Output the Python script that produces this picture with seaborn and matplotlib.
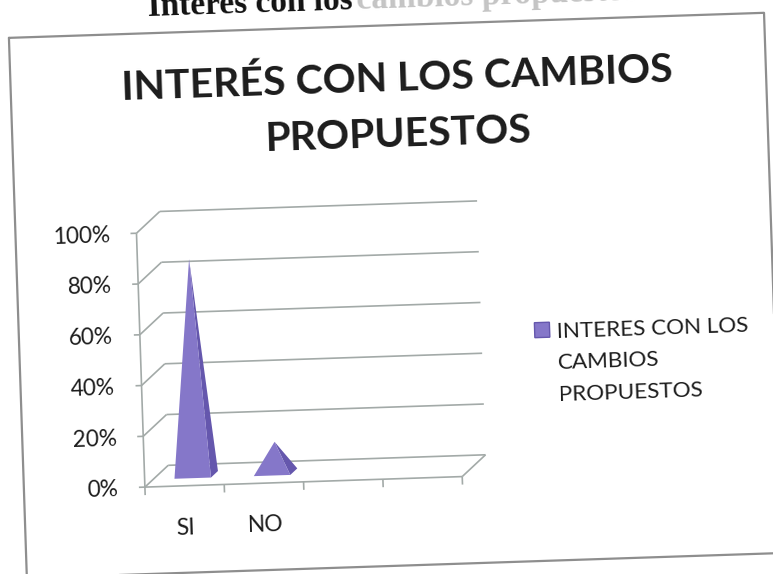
import matplotlib
matplotlib.use("Agg")
import numpy as np
import pandas as pd
import matplotlib.pyplot as plt
import seaborn as sns
from matplotlib.transforms import Affine2D
from matplotlib.lines import Line2D
from matplotlib.patches import Rectangle

# ---------------- data ----------------
categories = ["SI", "NO"]
values = [85, 12]
n_slots = 4
yticks = [0, 20, 40, 60, 80, 100]
ytick_labels = ["0%", "20%", "40%", "60%", "80%", "100%"]
title_lines = ["INTERÉS CON LOS CAMBIOS", "PROPUESTOS"]
legend_lines = ["INTERES CON LOS", "CAMBIOS", "PROPUESTOS"]
caption_dark = "Interes con los"
caption_faint = "cambios propuestos"

# ---------------- style ----------------
front_col = "#8577c9"
side_col = "#6557ad"
grid_col = "#a3aaa8"
text_col = "#1c1c1c"
ANG = 1.9          # scan rotation (deg)
DX, DY = 24, 21    # depth offset (px)
F0, F1 = 0.35, 0.65

sns.set_theme(style="white")
plt.rcParams['font.family'] = ['Lato', 'DejaVu Sans']

W, H = 773, 574
fig = plt.figure(figsize=(W / 100, H / 100), dpi=100)
fig.patch.set_facecolor("white")
ax = fig.add_axes([138.5 / W, (H - 479) / H, 317.5 / W, 254 / H])

df = pd.DataFrame({"cat": categories, "val": values})
sns.barplot(data=df, x="cat", y="val", width=0.46, color=front_col, ax=ax, errorbar=None)
ax.set_xlim(-0.5, n_slots - 0.5)
ax.set_ylim(0, 100)
ax.set_autoscale_on(False)
ax.axis("off")

bars = [(p.get_x(), p.get_width(), p.get_height()) for p in ax.patches]
for p in list(ax.patches):
    p.remove()
for l in list(ax.lines):
    l.remove()

ROT = Affine2D().rotate_deg_around(386, H - 290, ANG)
trD = ax.transData + ROT
trI = Affine2D().scale(1, -1).translate(0, H) + ROT


def px2data(dx, dy):
    p0 = ax.transData.transform((0, 0))
    q = ax.transData.inverted().transform(p0 + np.array([dx, dy]))
    return q[0], q[1]


ddx, ddy = px2data(DX, DY)


def P(x, y, f):
    return (x + f * ddx, y + f * ddy)


def seg(a, b, **kw):
    ax.plot([a[0], b[0]], [a[1], b[1]], transform=trD, clip_on=False,
            color=grid_col, lw=1.2, solid_capstyle="butt", zorder=1, **kw)


x_lo, x_hi = -0.5, n_slots - 0.5
# back wall gridlines + left wall diagonals + front ticks
tdx, _ = px2data(6, 0)
for v in yticks:
    seg(P(x_lo, v, 1), P(x_hi, v, 1))
    seg(P(x_lo, v, 0), P(x_lo, v, 1))
    seg((x_lo - tdx, v), (x_lo, v))
# front vertical axis
seg(P(x_lo, 0, 0), P(x_lo, 100, 0))
# floor front edge and right edge
seg(P(x_lo, 0, 0), P(x_hi, 0, 0))
seg(P(x_hi, 0, 0), P(x_hi, 0, 1))
# floor ticks
_, tdy = px2data(0, 8)
for k in range(n_slots + 1):
    b = x_lo + k
    seg((b, 0), (b, -tdy))

# pyramids
for (x0, w, h) in bars:
    c = x0 + w / 2
    FL, FR, BR = P(x0, 0, F0), P(x0 + w, 0, F0), P(x0 + w, 0, F1)
    apex = P(c, h, 0.5)
    ax.fill([FR[0], BR[0], apex[0]], [FR[1], BR[1], apex[1]], color=side_col,
            transform=trD, clip_on=False, zorder=3, lw=0)
    ax.fill([FL[0], FR[0], apex[0]], [FL[1], FR[1], apex[1]], color=front_col,
            transform=trD, clip_on=False, zorder=4, lw=0)

# y tick labels
for v, lab in zip(yticks, ytick_labels):
    ax.text(x_lo, v, lab, transform=ax.transData + Affine2D().translate(-26.7, -8) + ROT,
            ha="right", va="baseline", rotation=ANG, rotation_mode="anchor",
            fontsize=16.3, color=text_col)

# category labels
for (x0, w, h), lab in zip(bars, categories):
    ax.text(x0 + w / 2, 0, lab, transform=ax.transData + Affine2D().translate(0, -48.5) + ROT,
            ha="center", va="baseline", rotation=ANG, rotation_mode="anchor",
            fontsize=16.5, color=text_col)

# title
for y, line in zip([91, 147], title_lines):
    fig.text(404, y, line, transform=trI, ha="center", va="baseline", rotation=ANG,
             rotation_mode="anchor", fontsize=29.5, fontweight="bold", color=text_col)

# legend
fig.add_artist(Rectangle((533.2, 327.6), 15, 15, transform=trI, facecolor=front_col,
                         edgecolor=side_col, lw=1))
for y, line in zip([343.6, 375, 407], legend_lines):
    fig.text(555.5, y, line, transform=trI, ha="left", va="baseline", rotation=ANG,
             rotation_mode="anchor", fontsize=16.2, color=text_col)

# chart border
bx = [17.5, 773, 773, 17.5, 17.5]
by = [25.5, 25.5, 566, 566, 25.5]
fig.add_artist(Line2D(bx, by, transform=trI, color="#8e8e8e", lw=1.6))

# cut-off caption above the chart
fig.text(157, 8, caption_dark, transform=trI, ha="left", va="baseline", rotation=ANG,
         rotation_mode="anchor", fontsize=24, fontweight="bold", color="#111111",
         family=["Liberation Serif", "DejaVu Serif"])
fig.text(366, 8, caption_faint, transform=trI, ha="left", va="baseline", rotation=ANG,
         rotation_mode="anchor", fontsize=24, fontweight="bold", color="#c4c4c4",
         family=["Liberation Serif", "DejaVu Serif"])

fig.savefig("out.png", dpi=100, facecolor="white")
